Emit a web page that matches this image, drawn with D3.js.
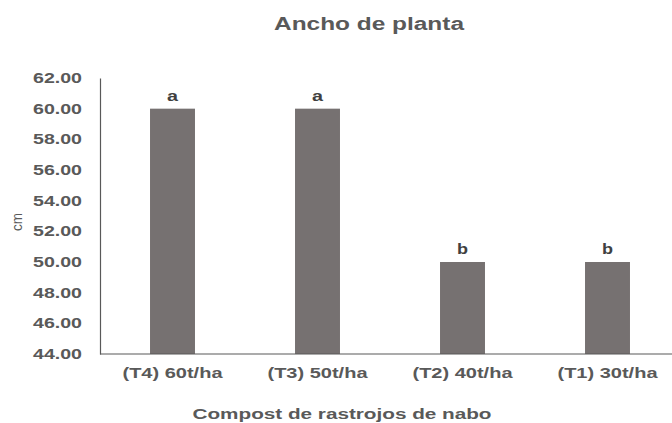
<!DOCTYPE html>
<html><head><meta charset="utf-8">
<script src="https://cdn.jsdelivr.net/npm/d3@7"></script>
<style>body{margin:0;background:#fff}svg{display:block;font-family:"Liberation Sans",Arial,sans-serif}</style>
</head><body><svg id="c" width="672" height="423"></svg>
<script>
const categories = ["(T4) 60t/ha","(T3) 50t/ha","(T2) 40t/ha","(T1) 30t/ha"];
const values = [60, 60, 50, 50];
const letters = ["a","a","b","b"];
const yTicks = [44,46,48,50,52,54,56,58,60,62];
const title = "Ancho de planta";
const xTitle = "Compost de rastrojos de nabo";
const yTitle = "cm";

const svg = d3.select("#c");
const x0 = 100, band = 145;
const x = d3.scaleBand().domain(categories).range([x0, x0 + band*categories.length]).paddingInner(0.69).paddingOuter(0.345);
const y = d3.scaleLinear().domain([44,62]).range([354,78]);
const txt = "#595959";

// bars
svg.selectAll("rect.bar").data(values).join("rect")
  .attr("x",(d,i)=>x(categories[i])).attr("width",x.bandwidth())
  .attr("y",d=>y(d)).attr("height",d=>y(44)-y(d)).attr("fill","#767171");

// y axis
const ya = svg.append("g").attr("transform",`translate(${x0},0)`)
  .call(d3.axisLeft(y).tickValues(yTicks).tickSize(0).tickPadding(18).tickFormat(d3.format(".2f")));
ya.select(".domain").attr("stroke","#595959").attr("stroke-width",1.2);
ya.selectAll("text").attr("fill",txt).attr("font-size",14).attr("font-weight","bold")
  .attr("font-family","Liberation Sans, Arial, sans-serif")
  .attr("textLength",49).attr("lengthAdjust","spacingAndGlyphs");

// x axis
svg.append("line").attr("x1",x0).attr("x2",672).attr("y1",y(44)).attr("y2",y(44)).attr("stroke","#595959").attr("stroke-width",1.2);
svg.selectAll("text.xl").data(categories).join("text").attr("class","xl")
  .attr("x",d=>x(d)+x.bandwidth()/2).attr("y",378).attr("text-anchor","middle")
  .attr("fill",txt).attr("font-size",14).attr("font-weight","bold")
  .attr("textLength",100).attr("lengthAdjust","spacingAndGlyphs").text(d=>d);

// letters
svg.selectAll("text.lt").data(letters).join("text").attr("class","lt")
  .attr("x",(d,i)=>x(categories[i])+x.bandwidth()/2).attr("y",(d,i)=>y(values[i])-8).attr("text-anchor","middle")
  .attr("fill","#404040").attr("font-size",14).attr("font-weight","bold")
  .attr("textLength",11).attr("lengthAdjust","spacingAndGlyphs").text(d=>d);

// title
svg.append("text").attr("x",369).attr("y",30).attr("text-anchor","middle").attr("fill",txt)
  .attr("font-size",18).attr("font-weight","bold").attr("textLength",190).attr("lengthAdjust","spacingAndGlyphs").text(title);
// x title
svg.append("text").attr("x",342).attr("y",419).attr("text-anchor","middle").attr("fill",txt)
  .attr("font-size",14).attr("font-weight","bold").attr("textLength",299).attr("lengthAdjust","spacingAndGlyphs").text(xTitle);
// y title
svg.append("text").attr("transform","translate(22,222) rotate(-90)").attr("text-anchor","middle").attr("fill",txt)
  .attr("font-size",15).attr("textLength",18).attr("lengthAdjust","spacingAndGlyphs").text(yTitle);
</script></body></html>
